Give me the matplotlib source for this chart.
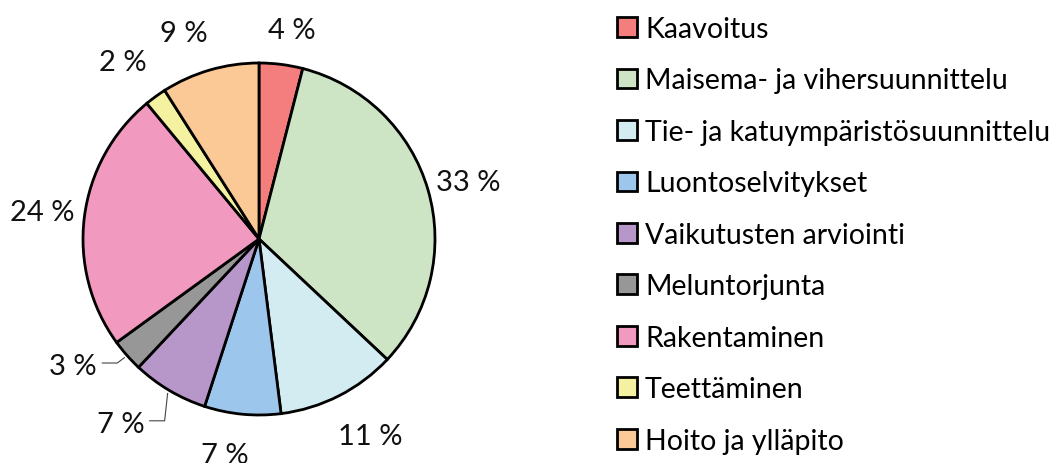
import numpy as np
import matplotlib
matplotlib.use("Agg")
import matplotlib.pyplot as plt
from matplotlib.patches import Patch

plt.rcParams['font.family'] = ['Lato', 'DejaVu Sans']

categories = ["Kaavoitus", "Maisema- ja vihersuunnittelu", "Tie- ja katuympäristösuunnittelu",
              "Luontoselvitykset", "Vaikutusten arviointi", "Meluntorjunta",
              "Rakentaminen", "Teettäminen", "Hoito ja ylläpito"]
values = [4, 33, 11, 7, 7, 3, 24, 2, 9]
value_labels = ["4 %", "33 %", "11 %", "7 %", "7 %", "3 %", "24 %", "2 %", "9 %"]
colors = ["#F47D7D", "#CDE5C5", "#D3ECF1", "#9DC6EC", "#B797C9", "#979797",
          "#F299BF", "#F4F2A0", "#FBC995"]

LFS = 20.5   # legend font size
PFS = 21     # percentage label font size
fig = plt.figure(figsize=(10.55, 4.64), dpi=100)
ax = fig.add_axes([83/1055, 48/464, 352/1055, 352/464])

wedges, _ = ax.pie(values, colors=colors, startangle=90, counterclock=False,
                   wedgeprops=dict(edgecolor="black", linewidth=2.0))
ax.set_xlim(-1, 1)
ax.set_ylim(-1, 1)
ax.set_aspect('equal')
ax.axis('off')

# label placement: (radial distance in radii, angle tweak in degrees); None => leader label
label_pos = [(1.20, -1.8), (1.23, -0.9), (1.285, 2.4), (1.24, -3.6), None, None,
             (1.24, 0.0), (1.27, 1.5), (1.245, 4.0)]
# leader: elbow offset (dx, dy), horizontal length, text y offset
leaders = {4: ((-0.017, -0.155), -0.085, -0.02), 5: ((-0.04, -0.03), -0.085, -0.015)}

for i, w in enumerate(wedges):
    mid_deg = (w.theta1 + w.theta2) / 2
    if label_pos[i] is not None:
        d, tweak = label_pos[i]
        a = np.deg2rad(mid_deg + tweak)
        ax.text(d * np.cos(a), d * np.sin(a), value_labels[i], ha='center', va='center',
                fontsize=PFS, color='#111111')
    else:
        a = np.deg2rad(mid_deg)
        (odx, ody), hl, ty = leaders[i]
        p0 = np.array([1.02 * np.cos(a), 1.02 * np.sin(a)])
        p1 = p0 + np.array([odx, ody])
        p2 = p1 + np.array([hl, 0])
        ax.plot([p0[0], p1[0], p2[0]], [p0[1], p1[1], p2[1]], color='#444444',
                lw=0.8, clip_on=False)
        ax.text(p2[0] - 0.03, p2[1] + ty, value_labels[i], ha='right', va='center',
                fontsize=PFS, color='#111111')

handles = [Patch(facecolor=col, edgecolor='black', linewidth=2) for col in colors]
fig.legend(handles, categories, loc='upper left',
           bbox_to_anchor=(617/1055, 1 - 17/464), frameon=False, fontsize=LFS,
           handlelength=0.7, handleheight=0.7, handletextpad=0.28,
           labelspacing=0.895, borderpad=0, borderaxespad=0)

fig.savefig("out.png", dpi=100, facecolor='white')
